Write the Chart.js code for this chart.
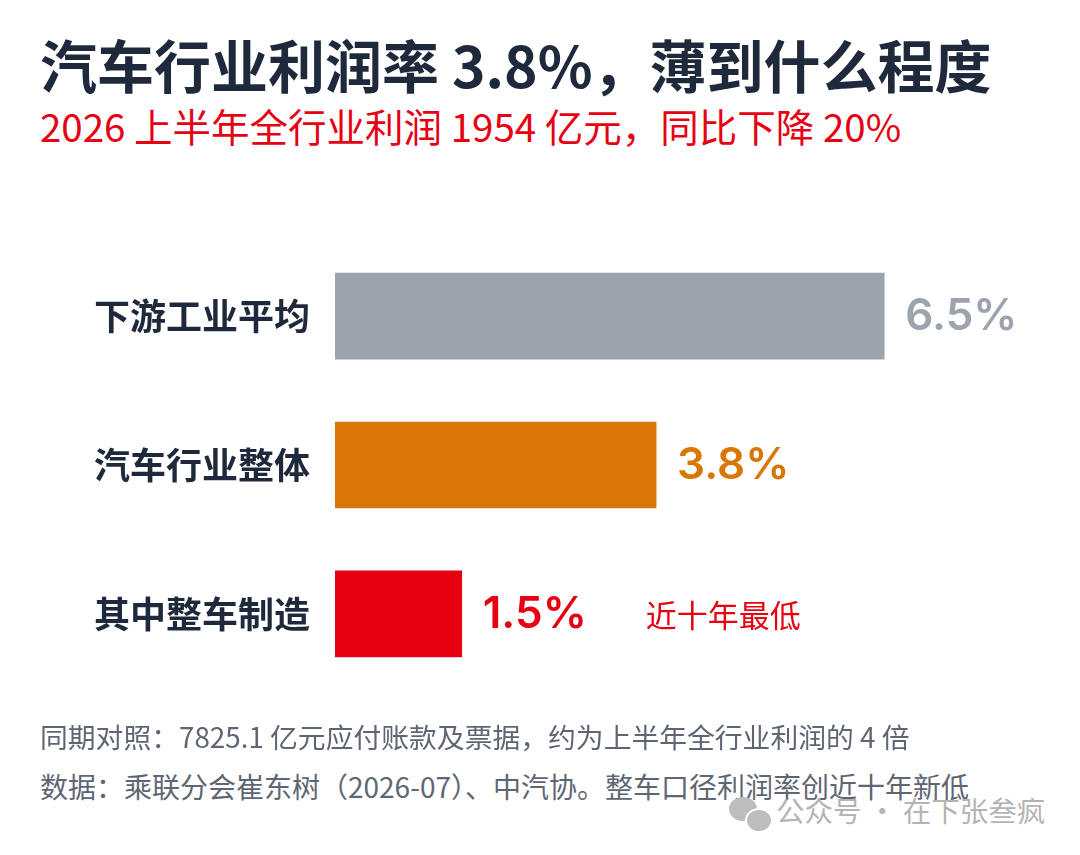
<!DOCTYPE html>
<html>
<head>
<meta charset="utf-8">
<script src="https://cdn.jsdelivr.net/npm/chart.js@4.4.1/dist/chart.umd.min.js"></script>
<style>
html,body{margin:0;padding:0;background:#fff;width:1080px;height:855px;overflow:hidden;font-family:"Noto Sans CJK SC","Noto Sans",sans-serif;}
.t{position:absolute;left:40px;white-space:nowrap;line-height:1;}
#title{top:35px;font-size:57px;font-weight:700;color:#1e293b;}
#subtitle{top:106px;font-size:38.5px;font-weight:400;color:#e60012;}
#note1{top:723px;font-size:27.8px;color:#5f6673;}
#note2{top:772px;font-size:28px;color:#5f6673;}
#wm{position:absolute;left:776px;top:796px;font-size:28.5px;line-height:1;color:#b4b4b4;white-space:nowrap;}
.ic{position:absolute;background:#bdbdbd;border-radius:50%;}
#chartBox{position:absolute;left:0;top:195px;width:1080px;height:540px;}
</style>
</head>
<body>
<div id="title" class="t">汽车行业利润率 3.8%，薄到什么程度</div>
<div id="subtitle" class="t">2026 上半年全行业利润 1954 亿元，同比下降 20%</div>
<div id="chartBox"><canvas id="c" width="1080" height="540"></canvas></div>
<div id="note1" class="t">同期对照：7825.1 亿元应付账款及票据，约为上半年全行业利润的 4 倍</div>
<div id="note2" class="t">数据：乘联分会崔东树（2026-07）、中汽协。整车口径利润率创近十年新低</div>
<div class="ic" style="left:729px;top:797px;width:28px;height:24px;"></div>
<div class="ic" style="left:745px;top:808px;width:24px;height:21px;border:2px solid #fff;"></div>
<div id="wm">公众号 · 在下张叁疯</div>
<script>
// ---- data ----
const categories = ['下游工业平均', '汽车行业整体', '其中整车制造'];
const profitMargins = [6.5, 3.8, 1.5];
const barNotes = ['', '', '近十年最低'];
const barColors = ['#9ca3af', '#d97706', '#e60012'];

const FONT = '"Noto Sans CJK SC","Noto Sans",sans-serif';
const NUM_FONT = 'Inter,"Noto Sans CJK SC",sans-serif';

const valueLabelPlugin = {
  id: 'valueLabels',
  afterDatasetsDraw(chart) {
    const ctx = chart.ctx;
    const meta = chart.getDatasetMeta(0);
    meta.data.forEach((bar, i) => {
      const label = profitMargins[i].toFixed(1) + '%';
      ctx.save();
      ctx.textAlign = 'left';
      ctx.textBaseline = 'middle';
      ctx.fillStyle = barColors[i];
      ctx.font = '600 44px ' + NUM_FONT;
      const x = bar.x + 21;
      ctx.fillText(label, x, bar.y + 1);
      if (barNotes[i]) {
        const w = ctx.measureText(label).width;
        ctx.font = '400 31px ' + FONT;
        ctx.fillText(barNotes[i], x + w + 59, bar.y + 1);
      }
      ctx.restore();
    });
  }
};

new Chart(document.getElementById('c'), {
  type: 'bar',
  data: {
    labels: categories,
    datasets: [{
      data: profitMargins,
      backgroundColor: barColors,
      borderWidth: 0,
      barThickness: 86
    }]
  },
  options: {
    indexAxis: 'y',
    responsive: false,
    animation: false,
    layout: { padding: { left: 0, right: 69, top: 0, bottom: 0 } },
    plugins: { legend: { display: false }, tooltip: { enabled: false }, title: { display: false } },
    scales: {
      x: { display: false, min: 0, max: 8 },
      y: {
        grid: { display: false, drawTicks: false },
        border: { display: false },
        ticks: { color: '#1e293b', padding: 25, font: { family: FONT, size: 36, weight: '700' } },
        afterFit(scale) { scale.width = 335; }
      }
    }
  },
  plugins: [valueLabelPlugin]
});
</script>
</body>
</html>
